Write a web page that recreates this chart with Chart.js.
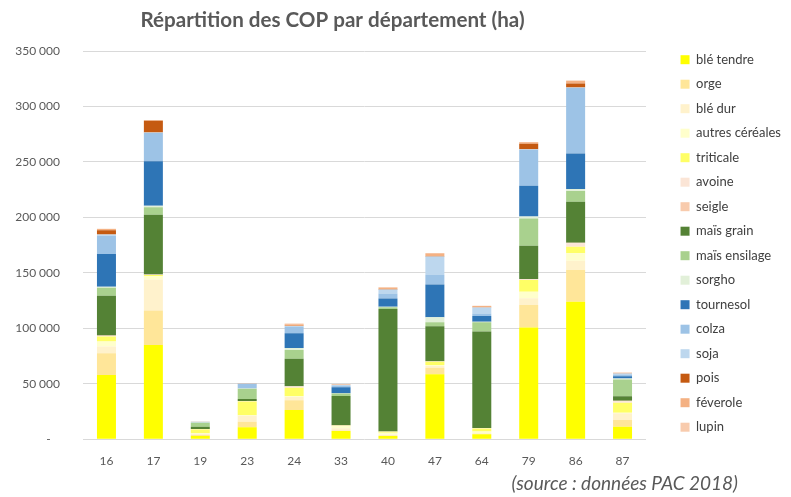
<!DOCTYPE html>
<html><head><meta charset="utf-8">
<script src="https://cdn.jsdelivr.net/npm/chart.js@4.4.1/dist/chart.umd.min.js"></script>
<style>html,body{margin:0;padding:0;background:#fff;}#wrap{position:relative;width:791px;height:497px;}</style>
</head><body><div id="wrap"><canvas id="c"></canvas></div>
<script>
const departements = ['16','17','19','23','24','33','40','47','64','79','86','87'];
const yTicks = [0, 50000, 100000, 150000, 200000, 250000, 300000, 350000];
const titre = 'Répartition des COP par département (ha)';
const sourceTxt = '(source : données PAC 2018)';

// valeurs en hectares
const bleTendre      = [58000, 85000, 3000, 10800, 26500, 7500, 3000, 58600, 4500, 100700, 124000, 11400];
const orge           = [19600, 31000, 800, 5100, 8700, 500, 500, 6000, 500, 20400, 28600, 6000];
const bleDur         = [6000, 28000, 1200, 5400, 3000, 2000, 500, 1500, 300, 6000, 8400, 6000];
const autresCereales = [4500, 3000, 500, 300, 500, 1800, 2000, 800, 1800, 6000, 6600, 500];
const triticale      = [4500, 1000, 3400, 12500, 7800, 500, 800, 3000, 2700, 10500, 6000, 9000];
const avoine         = [600, 300, 200, 300, 1000, 200, 200, 300, 300, 500, 3000, 1500];
const seigle         = [300, 200, 100, 200, 300, 100, 100, 200, 100, 300, 500, 300];
const maisGrain      = [36000, 54000, 2200, 1800, 24700, 26500, 110400, 31500, 87000, 30000, 37000, 4200];
const maisEnsilage   = [7000, 6600, 3500, 9200, 8100, 2100, 1500, 3600, 8200, 24700, 9600, 15000];
const sorgho         = [1000, 1500, 200, 200, 1800, 300, 500, 4500, 500, 1800, 2000, 1000];
const tournesol      = [29500, 40000, 100, 100, 13200, 5400, 7500, 29500, 5200, 27700, 32000, 2000];
const colza          = [16500, 25500, 300, 4000, 6000, 1500, 4500, 8700, 2400, 32500, 59000, 1400];
const soja           = [1000, 500, 300, 300, 500, 600, 3600, 16500, 5400, 300, 500, 1000];
const pois           = [4000, 10500, 100, 300, 300, 100, 300, 500, 200, 5000, 3600, 300];
const feverole       = [1000, 500, 100, 100, 1200, 100, 1500, 2400, 1000, 1300, 2400, 300];
const lupin          = [200, 200, 100, 100, 800, 100, 100, 200, 300, 200, 300, 200];

const series = [
  ['blé tendre', bleTendre, '#FFFF00'],
  ['orge', orge, '#FFE699'],
  ['blé dur', bleDur, '#FFF2CC'],
  ['autres céréales', autresCereales, '#FFFFCC'],
  ['triticale', triticale, '#FFFF66'],
  ['avoine', avoine, '#FBE5D6'],
  ['seigle', seigle, '#F8CBAD'],
  ['maïs grain', maisGrain, '#548235'],
  ['maïs ensilage', maisEnsilage, '#A9D18E'],
  ['sorgho', sorgho, '#E2F0D9'],
  ['tournesol', tournesol, '#2E75B6'],
  ['colza', colza, '#9DC3E6'],
  ['soja', soja, '#BDD7EE'],
  ['pois', pois, '#C55A11'],
  ['féverole', feverole, '#F4B183'],
  ['lupin', lupin, '#F8CBAD']
];

const W = 791, H = 497;
const AREA_LEFT = 83, AREA_RIGHT = 646, AREA_TOP = 51, AREA_BOTTOM = 439.3;
const PT = 2, PB = 12.1;
const LEG_PAD = 11.5, LEG_FONT = 13, LEG_BOX = 9;
const TITLE_SIZE = 20.6, TITLE_LH = TITLE_SIZE * 1.2, TITLE_CY = 20;

function fmt(v) {
  if (v === 0) return '-   ';
  return String(v).replace(/\B(?=(\d{3})+(?!\d))/g, '\u202F');
}

const extras = {
  id: 'extras',
  afterLayout(chart) {
    const t = chart.titleBlock;
    if (t) { t.left = 0; t.right = 665; }
  },
  afterDraw(chart) {
    const ctx = chart.ctx;
    ctx.save();
    ctx.font = 'italic 19px Lato';
    ctx.fillStyle = '#595959';
    ctx.textAlign = 'right';
    ctx.textBaseline = 'middle';
    ctx.fillText(sourceTxt, 738, 484);
    ctx.restore();
  }
};

const padTop = TITLE_CY - PT - TITLE_LH / 2;
const padBottom = (AREA_TOP - PT) - padTop - TITLE_LH;

new Chart(document.getElementById('c'), {
  type: 'bar',
  data: {
    labels: departements,
    datasets: series.map(([label, data, color]) => ({
      label, data, backgroundColor: color, borderWidth: 0, yAxisID: 'y', xAxisID: 'x',
      categoryPercentage: 1, barPercentage: 0.405
    }))
  },
  options: {
    responsive: true, maintainAspectRatio: false, animation: false,
    layout: { padding: { top: PT, bottom: PB, left: 0, right: 0 } },
    plugins: {
      tooltip: { enabled: false },
      title: {
        display: true, text: titre, color: '#595959',
        font: { family: 'Lato', size: TITLE_SIZE, weight: 'bold', lineHeight: 1.2 },
        padding: { top: padTop, bottom: padBottom }
      },
      legend: {
        position: 'right', align: 'center',
        labels: {
          boxWidth: LEG_BOX, boxHeight: LEG_BOX, padding: LEG_PAD, color: '#404040',
          font: { family: 'Lato', size: LEG_FONT }
        }
      }
    },
    scales: {
      x: {
        stacked: true,
        grid: { display: false, drawTicks: false },
        border: { display: false },
        ticks: { color: '#595959', font: { family: 'Lato', size: 12 }, padding: 14.5 },
        afterFit(s) { s.height = H - PB - AREA_BOTTOM; }
      },
      y: {
        stacked: true, min: 0, max: 350000,
        afterBuildTicks(s) { s.ticks = yTicks.map(v => ({ value: v })); },
        grid: { color: '#D9D9D9', lineWidth: 1, drawTicks: false },
        border: { display: false },
        ticks: { color: '#595959', font: { family: 'Lato', size: 12 }, padding: 23, callback: v => fmt(v) },
        afterFit(s) { s.width = AREA_LEFT; }
      },
      ySpacer: {
        type: 'linear', position: 'right', display: true,
        grid: { display: false, drawTicks: false }, border: { display: false },
        ticks: { display: false },
        afterFit(s) {
          const lw = s.chart.legend ? s.chart.legend.width : 130;
          s.width = Math.max(0, W - lw - AREA_RIGHT);
        }
      }
    }
  },
  plugins: [extras]
});
</script></body></html>
